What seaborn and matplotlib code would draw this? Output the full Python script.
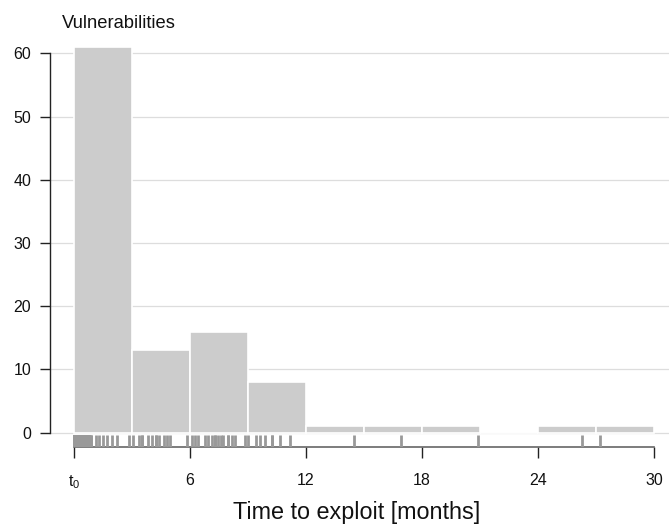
import numpy as np
import pandas as pd
import seaborn as sns
import matplotlib
import matplotlib.pyplot as plt

matplotlib.use("Agg")

# months from t0 until an exploit appeared
near_t0 = [
  0.0, 0.0, 0.0, 0.0, 0.0, 0.0, 0.0, 0.0, 0.02, 0.03, 0.05, 0.06, 0.08, 0.1,
  0.11, 0.13, 0.15, 0.16, 0.18, 0.2, 0.21, 0.23, 0.25, 0.27, 0.28, 0.3, 0.32,
  0.34, 0.36, 0.38, 0.4, 0.42, 0.44, 0.46, 0.48, 0.5, 0.52, 0.54, 0.56, 0.58,
  0.6, 0.62, 0.64, 0.66, 0.68, 0.7, 0.72, 0.74, 0.76, 0.78, 0.8, 0.83, 0.86, 0.9,
]
first_quarter = [1.14, 1.3, 1.48, 1.69, 1.95, 2.2, 2.85]
second_quarter = [3.07, 3.36, 3.5, 3.5, 3.84, 4.05, 4.22, 4.22, 4.39, 4.67, 4.79, 4.96, 5.83]
third_quarter = [6.09, 6.26, 6.43, 6.78, 6.95, 7.12, 7.29, 7.29, 7.46, 7.59, 7.72, 7.98, 7.98, 8.15, 8.32, 8.84]
fourth_quarter = [9.02, 9.42, 9.6, 9.88, 10.26, 10.26, 10.66, 11.17]
late = [14.48, 16.9, 20.9, 26.3, 27.2]

months = pd.Series(near_t0 + first_quarter + second_quarter + third_quarter + fourth_quarter + late, name="months")

bin_edges = [0, 3, 6, 9, 12, 15, 18, 21, 24, 27, 30]
x_ticks = [0, 6, 12, 18, 24, 30]
x_tick_labels = ["t$_{\\mathrm{0}}$", "6", "12", "18", "24", "30"]
y_ticks = [0, 10, 20, 30, 40, 50, 60]

sns.set_style("ticks")
plt.rcParams["font.family"] = ["Liberation Sans", "DejaVu Sans"]
plt.rcParams["mathtext.fontset"] = "custom"
plt.rcParams["mathtext.rm"] = "Liberation Sans"

fig = plt.figure(figsize=(6.69, 5.25), dpi=100)
ax = fig.add_axes([50 / 669, 78 / 525, 1 - 50 / 669, (447 - 40) / 525])

for t in y_ticks:
  ax.axhline(t, color="#dddddd", linewidth=0.9, zorder=0)

sns.histplot(x=months, bins=bin_edges, color="#cccccc", edgecolor="white", linewidth=1.2, alpha=1, ax=ax, zorder=2)
sns.rugplot(x=months, height=0.03, color="#999999", linewidth=2, ax=ax, zorder=3)

px = 580 / 30
ax.set_xlim(-(74 - 50) / px, (669 - 74) / px)
py = (432.7 - 53.3) / 60
ax.set_ylim(-(447 - 432.7) / py, (432.7 - 40) / py)

for side in ["top", "right"]:
  ax.spines[side].set_visible(False)
ax.spines["left"].set_bounds(0, 60)
ax.spines["bottom"].set_bounds(0, 30)
ax.spines["left"].set_color("#222222")
ax.spines["bottom"].set_color("#666666")
ax.spines["left"].set_linewidth(1)
ax.spines["bottom"].set_linewidth(1.2)

ax.set_xticks(x_ticks)
ax.set_xticklabels(x_tick_labels)
ax.set_yticks(y_ticks)
ax.tick_params(axis="x", length=8, width=1, color="#222222", pad=11, labelsize=11.5, labelcolor="#111111")
ax.tick_params(axis="y", length=7, width=1, color="#222222", pad=6.5, labelsize=11.5, labelcolor="#111111")

ax.set_ylabel("")
ax.set_xlabel("Time to exploit [months]", fontsize=16.8, color="#111111")
ax.xaxis.set_label_coords((357 - 50) / 619, -(501 - 447) / 407)
fig.text(62 / 669, 1 - 28 / 525, "Vulnerabilities", fontsize=13.2, ha="left", va="baseline", color="#111111")

plt.savefig("out.png", dpi=100)
